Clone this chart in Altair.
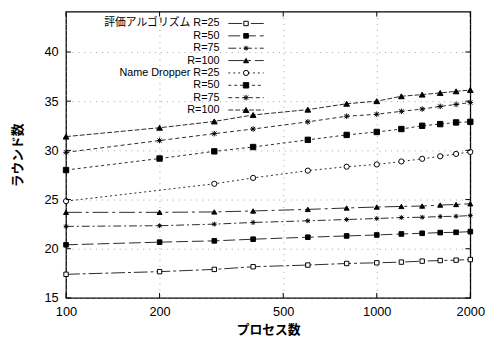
import altair as alt
import pandas as pd

processes = [100, 200, 300, 400, 600, 800, 1000, 1200, 1400, 1600, 1800, 2000]

eval_r25 = [17.4, 17.67, 17.9, 18.17, 18.34, 18.5, 18.57, 18.64, 18.74, 18.8, 18.84, 18.9]
eval_r50 = [20.4, 20.67, 20.8, 20.97, 21.17, 21.3, 21.4, 21.5, 21.57, 21.64, 21.67, 21.74]
eval_r75 = [22.27, 22.34, 22.5, 22.67, 22.84, 22.97, 23.07, 23.17, 23.2, 23.27, 23.3, 23.37]
eval_r100 = [23.7, 23.7, 23.74, 23.84, 24.0, 24.14, 24.24, 24.3, 24.34, 24.44, 24.5, 24.57]
nd_r25 = [24.84, None, 26.6, 27.2, 27.94, 28.34, 28.57, 28.87, 29.14, 29.4, 29.64, 29.84]
nd_r50 = [28.0, 29.17, 29.9, 30.34, 31.07, 31.57, 31.87, 32.17, 32.5, 32.67, 32.84, 32.9]
nd_r75 = [29.8, 31.0, 31.7, 32.17, 32.9, 33.47, 33.67, 33.97, 34.2, 34.47, 34.67, 34.87]
nd_r100 = [31.4, 32.3, 32.94, 33.6, 34.14, 34.74, 35.0, 35.5, 35.67, 35.84, 36.0, 36.14]

series_names = ["E25", "E50", "E75", "E100", "N25", "N50", "N75", "N100"]
series_values = [eval_r25, eval_r50, eval_r75, eval_r100, nd_r25, nd_r50, nd_r75, nd_r100]
legend_labels = ["評価アルゴリズム R=25", "R=50", "R=75", "R=100",
                 "Name Dropper R=25", "R=50", "R=75", "R=100"]

x_ticks = [100, 200, 500, 1000, 2000]
y_ticks = [15, 20, 25, 30, 35, 40]

rows = []
for name, vals in zip(series_names, series_values):
    for p, v in zip(processes, vals):
        if v is not None:
            rows.append({"series": name, "procs": p, "rounds": v})
df = pd.DataFrame(rows)

legend_df = pd.DataFrame({"series": series_names, "label": legend_labels,
                          "row": list(range(len(series_names)))})

W, H = 411, 291
YDOM = [15, 44.1]

dash_scale = alt.Scale(domain=series_names,
                       range=[[14, 3, 3, 3], [12, 4], [8, 3, 2, 3], [16, 4, 3, 4],
                              [2, 3], [3, 3], [4, 3], [5, 2]])
ast = "M-1,0L1,0M0,-1L0,1M-0.75,-0.75L0.75,0.75M-0.75,0.75L0.75,-0.75"
shape_scale = alt.Scale(domain=series_names,
                        range=["square", "square", ast, "triangle-up",
                               "circle", "square", ast, "triangle-up"])
fill_scale = alt.Scale(domain=series_names,
                       range=["white", "black", "black", "black",
                              "white", "black", "black", "black"])
size_scale = alt.Scale(domain=series_names,
                       range=[20, 34, 36, 24, 22, 34, 36, 24])

font_lat = "Liberation Sans"
font_jp = "Noto Sans CJK JP"

xenc = alt.X("procs:Q",
             scale=alt.Scale(type="log", domain=[100, 2000], nice=False),
             axis=alt.Axis(values=x_ticks, format="d", title="プロセス数",
                           titleFont=font_jp, titleFontSize=13, titleFontWeight="bold",
                           titleY=32, titleBaseline="middle",
                           labelFont=font_lat, labelFontSize=13, labelColor="black",
                           labelPadding=8, ticks=False, domain=False,
                           grid=True, gridColor="#888", gridDash=[1, 5], gridWidth=0.8,
                           labelFlush=False))
yenc = alt.Y("rounds:Q",
             scale=alt.Scale(domain=YDOM, nice=False, zero=False),
             axis=alt.Axis(values=y_ticks, title="ラウンド数",
                           titleFont=font_jp, titleFontSize=13, titleFontWeight="bold",
                           titleX=-49, titleY=H / 2, titleBaseline="middle", titleAlign="center",
                           titleAngle=-90,
                           labelFont=font_lat, labelFontSize=13, labelColor="black",
                           labelPadding=8, ticks=False, domain=False,
                           grid=True, gridColor="#888", gridDash=[1, 5], gridWidth=0.8))

base = alt.Chart(df)
lines = base.mark_line(color="#111", strokeWidth=0.9).encode(
    x=xenc, y=yenc, detail="series:N",
    strokeDash=alt.StrokeDash("series:N", scale=dash_scale, legend=None))
points = base.mark_point(stroke="black", strokeWidth=1, opacity=1).encode(
    x=alt.X("procs:Q", scale=alt.Scale(type="log", domain=[100, 2000], nice=False)),
    y=alt.Y("rounds:Q", scale=alt.Scale(domain=YDOM, nice=False, zero=False), axis=None),
    shape=alt.Shape("series:N", scale=shape_scale, legend=None),
    fill=alt.Fill("series:N", scale=fill_scale, legend=None),
    size=alt.Size("series:N", scale=size_scale, legend=None))

leg_y = alt.Y("row:Q", scale=alt.Scale(domain=[0, 7], range=[12, 100]), axis=None)
lg = alt.Chart(legend_df)
leg_text = lg.mark_text(align="right", baseline="middle",
                        font=f"{font_lat}, {font_jp}", fontSize=11, color="black").encode(
    x=alt.value(156), y=leg_y, text="label:N")
leg_rule = lg.mark_rule(color="#111", strokeWidth=0.9).encode(
    x=alt.value(165), x2=alt.value(201), y=leg_y,
    strokeDash=alt.StrokeDash("series:N", scale=dash_scale, legend=None))
leg_pt = lg.mark_point(stroke="black", strokeWidth=1, opacity=1).encode(
    x=alt.value(183), y=leg_y,
    shape=alt.Shape("series:N", scale=shape_scale, legend=None),
    fill=alt.Fill("series:N", scale=fill_scale, legend=None),
    size=alt.Size("series:N", scale=size_scale, legend=None))

xt = alt.Chart(pd.DataFrame({"v": x_ticks}))
xs = alt.X("v:Q", scale=alt.Scale(type="log", domain=[100, 2000], nice=False))
xt_bot = xt.mark_rule(color="black", strokeWidth=1).encode(
    x=xs, y=alt.value(H), y2=alt.value(H - 5))
xt_top = xt.mark_rule(color="black", strokeWidth=1).encode(
    x=xs, y=alt.value(0), y2=alt.value(5))
yt = alt.Chart(pd.DataFrame({"v": y_ticks}))
ys = alt.Y("v:Q", scale=alt.Scale(domain=YDOM, nice=False, zero=False), axis=None)
yt_left = yt.mark_rule(color="black", strokeWidth=1).encode(
    y=ys, x=alt.value(0), x2=alt.value(5))
yt_right = yt.mark_rule(color="black", strokeWidth=1).encode(
    y=ys, x=alt.value(W - 5), x2=alt.value(W))

chart = alt.layer(lines, points, xt_bot, xt_top, yt_left, yt_right,
                  leg_text, leg_rule, leg_pt).resolve_scale(
    y="independent").properties(
    width=W, height=H,
    autosize=alt.AutoSizeParams(type="none"),
    padding={"left": 59, "top": 1, "right": 19, "bottom": 37},
    background="white",
).configure_view(stroke="black", strokeWidth=1.3)

chart.save("out.html", embed_options={"renderer": "svg", "actions": False})
